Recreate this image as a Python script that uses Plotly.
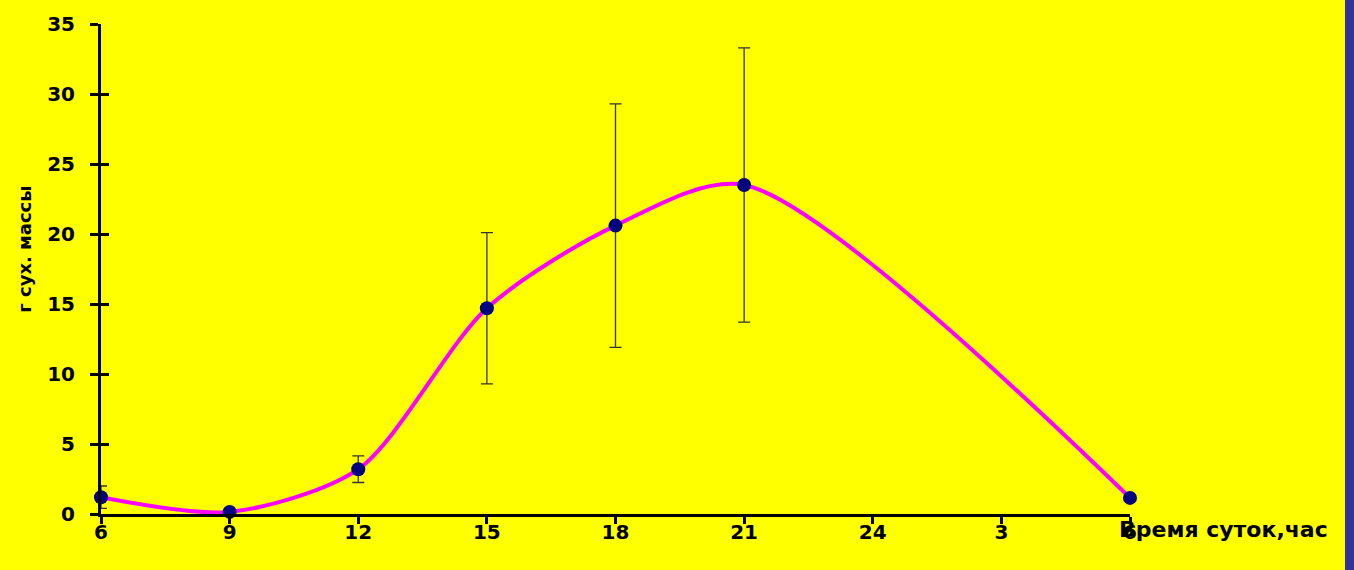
import plotly.graph_objects as go

# ---- data ----
hour_labels = ["6", "9", "12", "15", "18", "21", "24", "3", "6"]
mass_values = [1.2, 0.15, 3.2, 14.7, 20.6, 23.5, None, None, 1.15]
mass_errors = [0.8, None, 0.95, 5.4, 8.7, 9.8, None, None, None]
y_ticks = [0, 5, 10, 15, 20, 25, 30, 35]

x_idx = list(range(len(hour_labels)))

FONT = "DejaVu Sans"
W, H = 1354, 570
L, R, T, B = 101, 224, 19, 56
pw = W - L - R
ph = H - T - B

fig = go.Figure()

fig.add_trace(go.Scatter(
    x=x_idx, y=mass_values,
    mode="lines+markers",
    connectgaps=True,
    line=dict(color="#FF00FF", width=4, shape="spline", smoothing=0.8),
    marker=dict(color="#000080", size=14),
    error_y=dict(type="data", array=mass_errors, visible=True,
                 color="#333333", thickness=1.3, width=6),
    cliponaxis=False,
    showlegend=False,
))

# invisible trace on overlay axis to draw the inner half of crossing ticks
fig.add_trace(go.Scatter(x=[0], y=[0], yaxis="y2", mode="markers",
                         marker=dict(opacity=0), showlegend=False,
                         hoverinfo="skip"))

fig.update_layout(
    width=W, height=H,
    margin=dict(l=L, r=R, t=T, b=B, pad=0),
    paper_bgcolor="#FFFF00",
    plot_bgcolor="#FFFF00",
    font=dict(family=FONT, color="black"),
    xaxis=dict(
        range=[0, 8],
        tickmode="array", tickvals=x_idx, ticktext=hour_labels,
        showgrid=False, zeroline=False,
        showline=True, linecolor="black", linewidth=3,
        ticks="outside", ticklen=7, tickwidth=2.5, tickcolor="black",
        ticklabelstandoff=-9,
        tickfont=dict(family=FONT, size=20, color="black", weight="bold"),
    ),
    yaxis=dict(
        range=[0, 35],
        tickmode="array", tickvals=y_ticks,
        showgrid=False, zeroline=False,
        showline=True, linecolor="black", linewidth=3,
        ticks="outside", ticklen=8, tickwidth=2.5, tickcolor="black",
        ticklabelstandoff=11,
        tickfont=dict(family=FONT, size=20, color="black", weight="bold"),
    ),
    yaxis2=dict(
        range=[0, 35], overlaying="y", side="left", anchor="x",
        tickmode="array", tickvals=y_ticks,
        showgrid=False, zeroline=False, showline=False,
        ticks="inside", ticklen=8, tickwidth=2.5, tickcolor="black",
        showticklabels=False,
    ),
    annotations=[
        dict(text="г сух. массы", xref="paper", yref="paper",
             x=(25 - L) / pw, y=(H - B - 247) / ph,
             xanchor="center", yanchor="middle", textangle=-90,
             showarrow=False,
             font=dict(family=FONT, size=18, color="black", weight="bold")),
        dict(text="Время суток,час", xref="paper", yref="paper",
             x=(1117 - L) / pw, y=(H - B - 530) / ph,
             xanchor="left", yanchor="middle",
             showarrow=False,
             font=dict(family=FONT, size=22, color="black", weight="bold")),
    ],
    shapes=[
        dict(type="rect", xref="paper", yref="paper", layer="above",
             x0=(1345 - L) / pw, x1=(1360 - L) / pw,
             y0=-0.2, y1=1.1,
             fillcolor="#333399", line=dict(width=0)),
    ],
)

fig.write_html(
    "out.html",
    config={"displayModeBar": False},
    post_script="document.body.style.margin='0';document.body.style.overflow='hidden';",
)
